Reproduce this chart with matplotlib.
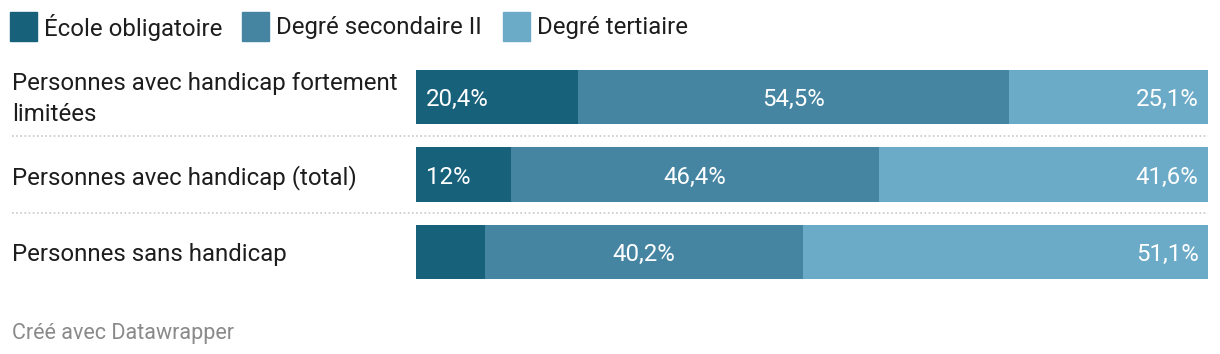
import matplotlib
matplotlib.use('Agg')
import matplotlib.pyplot as plt
import numpy as np

plt.rcParams['font.family'] = ['Roboto', 'DejaVu Sans']

# données
categories = ["Personnes avec handicap fortement\nlimitées",
              "Personnes avec handicap (total)",
              "Personnes sans handicap"]
series = ["École obligatoire", "Degré secondaire II", "Degré tertiaire"]
ecole = [20.4, 12.0, 8.7]
secondaire = [54.5, 46.4, 40.2]
tertiaire = [25.1, 41.6, 51.1]
colors = ["#18617b", "#4585a2", "#6babc8"]

FS = 17.3
W, H = 1220, 354
fig = plt.figure(figsize=(W / 100, H / 100), dpi=100)

# zone des barres en pixels
x0, x1 = 416, 1208
y_top, y_bot = 58, 291
ax = fig.add_axes([x0 / W, 1 - y_bot / H, (x1 - x0) / W, (y_bot - y_top) / H])

y = np.arange(len(categories))
left = np.zeros(len(categories))
for name, vals, col in zip(series, [ecole, secondaire, tertiaire], colors):
    vals = np.array(vals)
    ax.barh(y, vals, left=left, height=0.7, color=col, linewidth=0, label=name)
    for i, (l, v) in enumerate(zip(left, vals)):
        if v < 10:
            continue
        txt = (f"{v:.0f}%" if v == int(v) else f"{v:.1f}%").replace('.', ',')
        if name == series[0]:
            ax.text(l + 1.2, i, txt, ha='left', va='center_baseline', color='white', fontsize=FS)
        elif name == series[-1]:
            ax.text(l + v - 1.2, i, txt, ha='right', va='center_baseline', color='white', fontsize=FS)
        else:
            ax.text(l + v / 2, i, txt, ha='center', va='center_baseline', color='white', fontsize=FS)
    left += vals

ax.set_xlim(0, 100)
ax.set_ylim(len(categories) - 0.5, -0.5)
ax.axis('off')

# libellés des lignes
lab_x = (12 - x0) / (x1 - x0)
for i, cat in enumerate(categories):
    if "\n" in cat:
        ax.text(lab_x, i + 0.03, cat, transform=ax.get_yaxis_transform(), ha='left', va='center',
                fontsize=FS, color='#1d1d1d', linespacing=1.45)
    else:
        ax.text(lab_x, i, cat, transform=ax.get_yaxis_transform(), ha='left',
                va='center_baseline', fontsize=FS, color='#1d1d1d')

# séparateurs pointillés
for i in range(len(categories) - 1):
    ax.plot([lab_x, 1.0], [i + 0.5, i + 0.5], transform=ax.get_yaxis_transform(),
            color='#c8c8c8', linestyle=(0, (1, 1.5)), linewidth=1.2, clip_on=False)

# légende
leg_x = [10, 242, 503]
for lx, name, col in zip(leg_x, series, colors):
    fig.patches.append(plt.Rectangle((lx / W, 1 - 41 / H), 27 / W, 29 / H,
                                     transform=fig.transFigure, color=col))
    fig.text((lx + 34) / W, 1 - 25 / H, name, ha='left', va='center_baseline',
             fontsize=FS, color='#1d1d1d')

fig.text(12 / W, 1 - 331 / H, "Créé avec Datawrapper", ha='left', va='center_baseline',
         fontsize=15.5, color='#8a8a8a')

fig.savefig('out.png', dpi=100, facecolor='white')
